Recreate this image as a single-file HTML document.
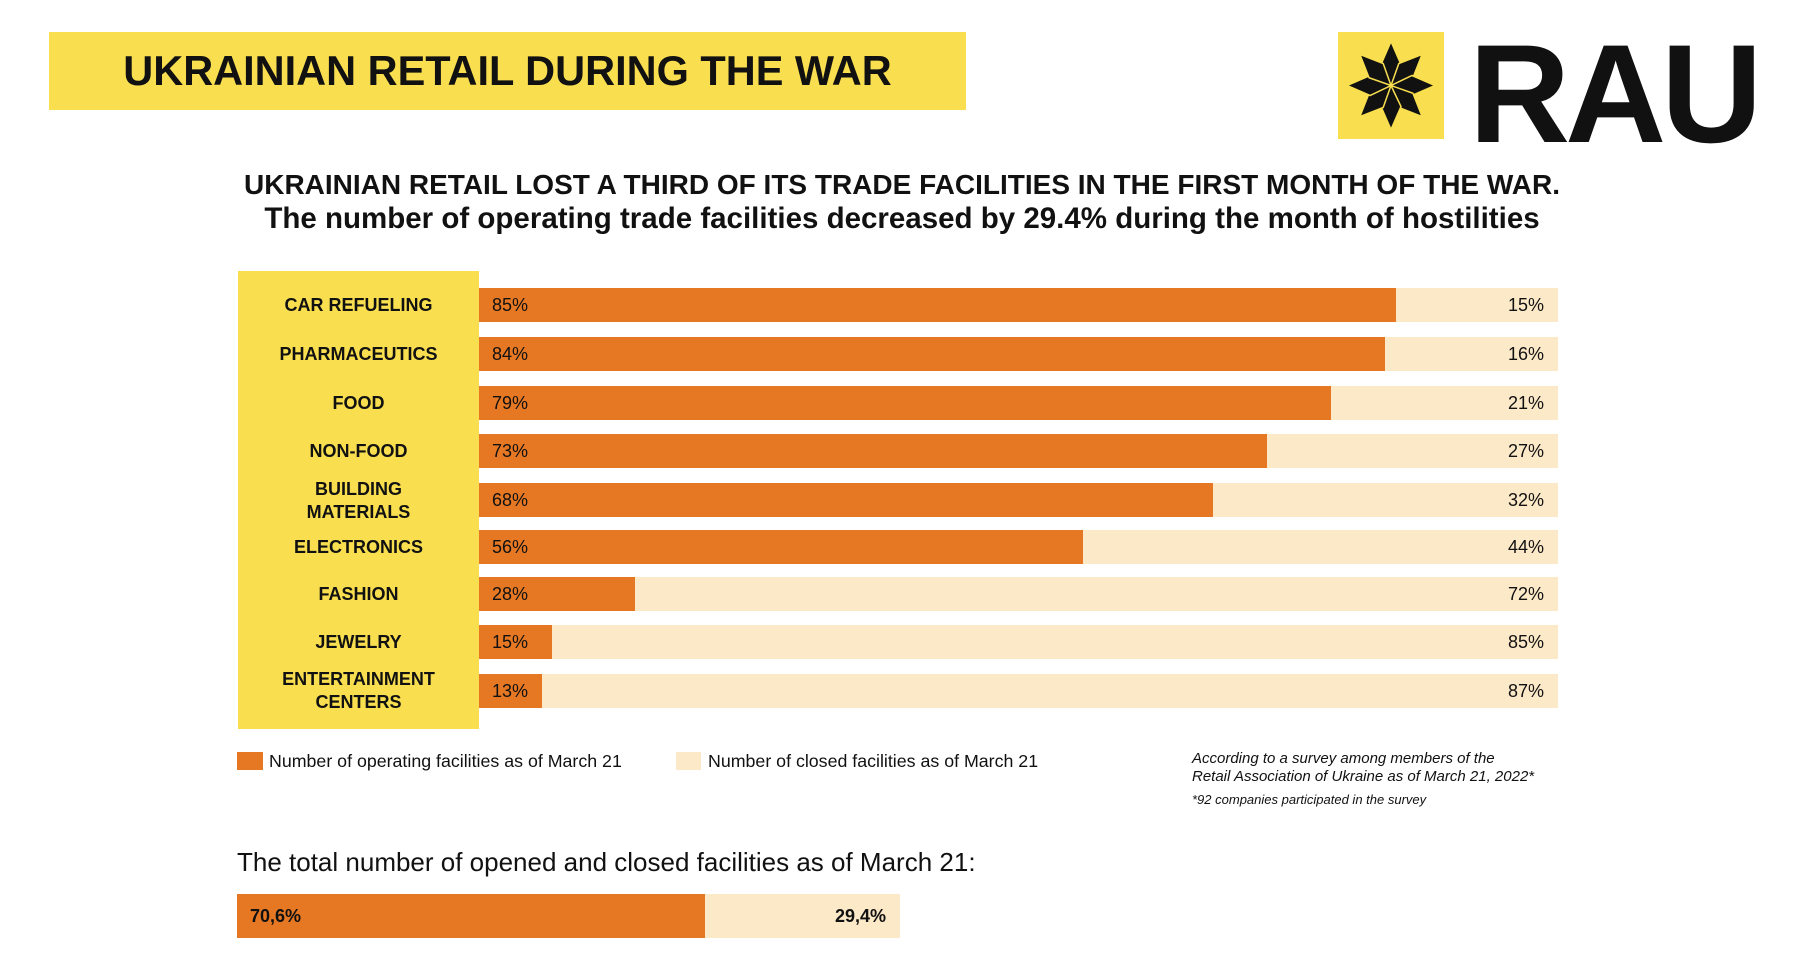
<!DOCTYPE html>
<html><head><meta charset="utf-8"><style>
body{margin:0;width:1797px;height:968px;background:#fff;position:relative;overflow:hidden;font-family:"Liberation Sans","DejaVu Sans",sans-serif;color:#111}
.a{position:absolute}
.bar{position:absolute;left:479px;width:1079px;height:34px;background:#FCE9C8}
.bar .o{position:absolute;left:0;top:0;height:100%;background:#E67824}
.bar .l{position:absolute;left:13px;top:0;line-height:34px;font-size:18px}
.bar .r{position:absolute;right:14px;top:0;line-height:34px;font-size:18px}
.lab{position:absolute;left:238px;width:241px;text-align:center;font-weight:bold;font-size:18px;line-height:23px;display:flex;align-items:center;justify-content:center}
</style></head><body>
<div class="a" style="left:49px;top:32px;width:917px;height:78px;background:#F9DF4F"></div>
<div class="a" style="left:49px;top:32px;width:917px;height:78px;line-height:78px;text-align:center;font-weight:bold;font-size:41.5px">UKRAINIAN RETAIL DURING THE WAR</div>
<div class="a" style="left:1338px;top:32px;width:106px;height:107px;background:#F9DF4F"></div>
<svg class="a" style="left:1338px;top:32px" width="106" height="107" viewBox="-53 -53.5 106 107">
<g fill="#111" stroke="#F9DF4F" stroke-width="1.5">
<polygon points="0,0 10,-21 0,-44 -10,-21" transform="rotate(0)"/>
<polygon points="0,0 10,-21 0,-44 -10,-21" transform="rotate(45)"/>
<polygon points="0,0 10,-21 0,-44 -10,-21" transform="rotate(90)"/>
<polygon points="0,0 10,-21 0,-44 -10,-21" transform="rotate(135)"/>
<polygon points="0,0 10,-21 0,-44 -10,-21" transform="rotate(180)"/>
<polygon points="0,0 10,-21 0,-44 -10,-21" transform="rotate(225)"/>
<polygon points="0,0 10,-21 0,-44 -10,-21" transform="rotate(270)"/>
<polygon points="0,0 10,-21 0,-44 -10,-21" transform="rotate(315)"/>
</g></svg>
<div class="a" style="left:1469px;top:24px;font-weight:bold;font-size:140px;line-height:140px;letter-spacing:-5px">RAU</div>
<div class="a" style="left:0;width:1804px;top:168px;text-align:center;font-size:28px;font-weight:bold;line-height:34px">UKRAINIAN RETAIL LOST A THIRD OF ITS TRADE FACILITIES IN THE FIRST MONTH OF THE WAR.<br><span style="font-size:29.5px">The number of operating trade facilities decreased by 29.4% during the month of hostilities</span></div>
<div class="a" style="left:238px;top:271px;width:241px;height:458px;background:#F9DF4F"></div>
<div class="lab" style="top:288px;height:34px">CAR REFUELING</div>
<div class="lab" style="top:337px;height:34px">PHARMACEUTICS</div>
<div class="lab" style="top:386px;height:34px">FOOD</div>
<div class="lab" style="top:434px;height:34px">NON-FOOD</div>
<div class="lab" style="top:478px;height:46px">BUILDING<br>MATERIALS</div>
<div class="lab" style="top:530px;height:34px">ELECTRONICS</div>
<div class="lab" style="top:577px;height:34px">FASHION</div>
<div class="lab" style="top:625px;height:34px">JEWELRY</div>
<div class="lab" style="top:668px;height:46px">ENTERTAINMENT<br>CENTERS</div>
<div class="bar" style="top:288px"><div class="o" style="width:85%"></div><span class="l">85%</span><span class="r">15%</span></div>
<div class="bar" style="top:337px"><div class="o" style="width:84%"></div><span class="l">84%</span><span class="r">16%</span></div>
<div class="bar" style="top:386px"><div class="o" style="width:79%"></div><span class="l">79%</span><span class="r">21%</span></div>
<div class="bar" style="top:434px"><div class="o" style="width:73%"></div><span class="l">73%</span><span class="r">27%</span></div>
<div class="bar" style="top:483px"><div class="o" style="width:68%"></div><span class="l">68%</span><span class="r">32%</span></div>
<div class="bar" style="top:530px"><div class="o" style="width:56%"></div><span class="l">56%</span><span class="r">44%</span></div>
<div class="bar" style="top:577px"><div class="o" style="width:14.5%"></div><span class="l">28%</span><span class="r">72%</span></div>
<div class="bar" style="top:625px"><div class="o" style="width:6.8%"></div><span class="l">15%</span><span class="r">85%</span></div>
<div class="bar" style="top:674px"><div class="o" style="width:5.8%"></div><span class="l">13%</span><span class="r">87%</span></div>
<div class="a" style="left:237px;top:752px;width:26px;height:18px;background:#E67824"></div>
<div class="a" style="left:269px;top:751px;font-size:17.8px;line-height:20px">Number of operating facilities as of March 21</div>
<div class="a" style="left:676px;top:752px;width:25px;height:18px;background:#FCE9C8"></div>
<div class="a" style="left:708px;top:751px;font-size:17.8px;line-height:20px">Number of closed facilities as of March 21</div>
<div class="a" style="left:1192px;top:750px;font-size:15px;line-height:18px;font-style:italic">According to a survey among members of the<br>Retail Association of Ukraine as of March 21, 2022*</div>
<div class="a" style="left:1192px;top:792px;font-size:13px;line-height:16px;font-style:italic">*92 companies participated in the survey</div>
<div class="a" style="left:237px;top:847px;font-size:26px;line-height:30px">The total number of opened and closed facilities as of March 21:</div>
<div class="a" style="left:237px;top:894px;width:663px;height:44px;background:#FCE9C8"></div>
<div class="a" style="left:237px;top:894px;width:468px;height:44px;background:#E67824"></div>
<div class="a" style="left:250px;top:894px;line-height:44px;font-size:18px;font-weight:bold">70,6%</div>
<div class="a" style="left:796px;width:90px;text-align:right;top:894px;line-height:44px;font-size:18px;font-weight:bold">29,4%</div>
</body></html>
